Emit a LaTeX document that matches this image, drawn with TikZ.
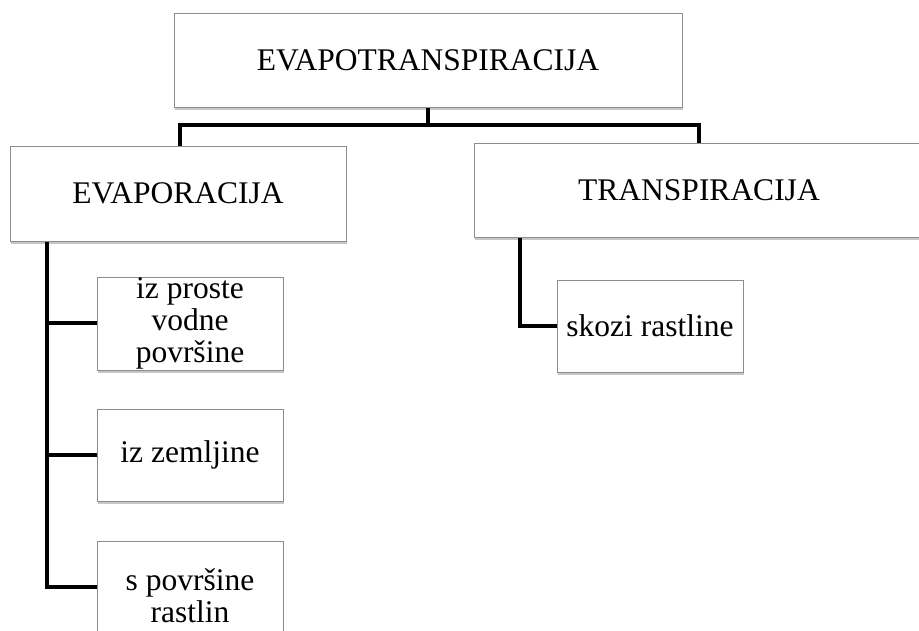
\documentclass[tikz,border=0pt]{standalone}
\usepackage{fontspec}
\setmainfont{Liberation Serif}
\usetikzlibrary{shadows,backgrounds}
\tikzset{
  box/.style={draw=black!45, line width=0.8pt, fill=white, inner sep=0pt, align=center,
    font=\fontsize{31.5}{32}\selectfont,
    drop shadow={shadow xshift=1pt, shadow yshift=-3pt, fill=black, opacity=0.22}},
  conn/.style={draw=black, line width=4pt, line join=miter}
}
\begin{document}
\begin{tikzpicture}[x=1pt, y=-1pt]
\useasboundingbox (0,0) rectangle (919,631);
\node[box, minimum width=508pt, minimum height=94pt] (top) at (428,60) {EVAPOTRANSPIRACIJA};
\node[box, minimum width=336pt, minimum height=95pt] (evap) at (178,193.5) {EVAPORACIJA};
\node[box, minimum width=450pt, minimum height=94pt] (trans) at (699,190) {TRANSPIRACIJA};
\node[box, minimum width=186pt, minimum height=93pt] (c1) at (190,323.5) {iz proste\\vodne\\površine};
\node[box, minimum width=186pt, minimum height=92pt] (c2) at (190,455) {iz zemljine};
\node[box, minimum width=186pt, minimum height=110pt] (c3) at (190,596) {s površine\\rastlin};
\node[box, minimum width=186pt, minimum height=92pt] (s1) at (650,326) {skozi rastline};
\coordinate (j) at (428,125);
\coordinate (ls) at ([xshift=37pt]evap.south west);
\coordinate (rs) at ([xshift=46pt]trans.south west);
\begin{scope}[on background layer]
\draw[conn] (top.south) -- (j);
\draw[conn] ([xshift=2pt]evap.north) |- (j) -| (trans.north);
\draw[conn] (ls) |- ([yshift=9pt]c3.west);
\draw[conn] (ls |- c1.west) -- (c1.west);
\draw[conn] (ls |- c2.west) -- (c2.west);
\draw[conn] (rs) |- (s1.west);
\end{scope}
\end{tikzpicture}
\end{document}
